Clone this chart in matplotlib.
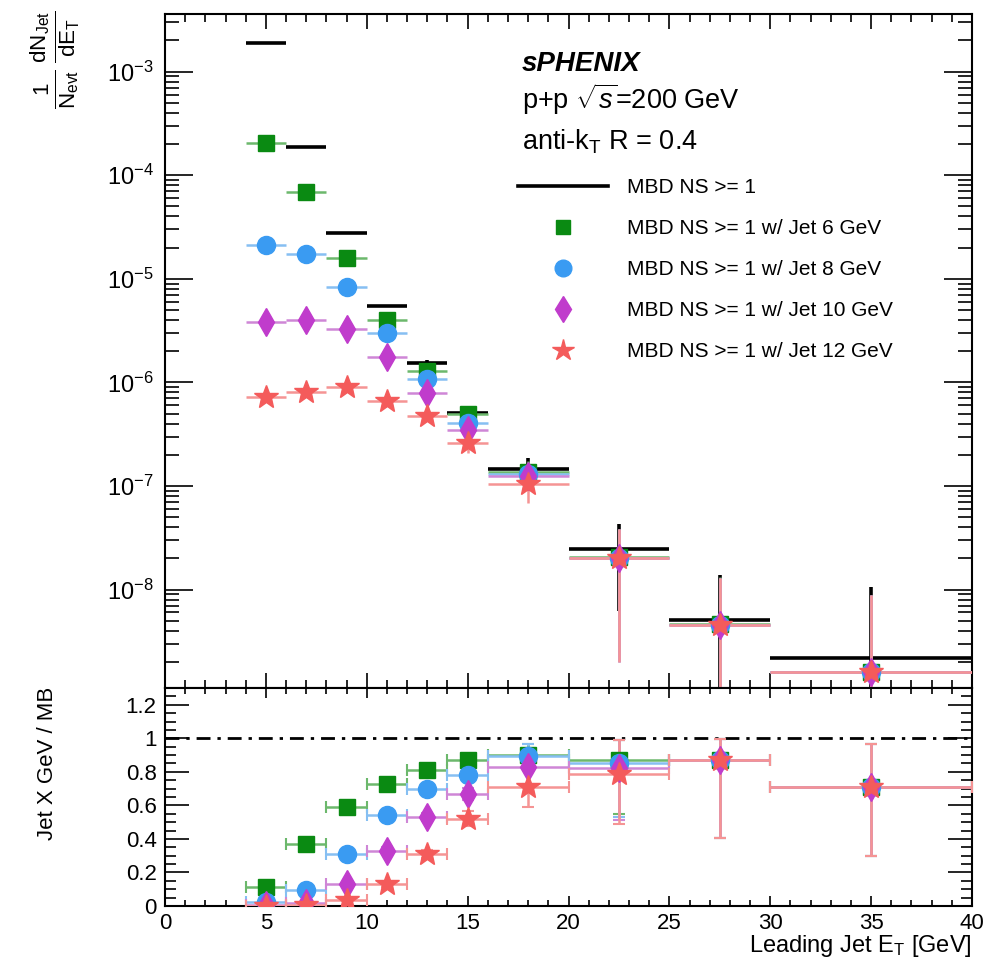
import numpy as np
import matplotlib
matplotlib.use("Agg")
import matplotlib.pyplot as plt
from matplotlib.lines import Line2D
from matplotlib.ticker import MultipleLocator, FixedLocator, NullFormatter, LogLocator

plt.rcParams['font.family'] = ['Liberation Sans', 'DejaVu Sans']
plt.rcParams['mathtext.fontset'] = 'custom'
plt.rcParams['mathtext.rm'] = 'Liberation Sans'
plt.rcParams['mathtext.it'] = 'Liberation Sans:italic'
plt.rcParams['mathtext.bf'] = 'Liberation Sans:bold'
plt.rcParams['mathtext.sf'] = 'Liberation Sans'

# ---------------- data ----------------
bin_lo = [4, 6, 8, 10, 12, 14, 16, 20, 25, 30]
bin_hi = [6, 8, 10, 12, 14, 16, 20, 25, 30, 40]

mb = [1.9e-3, 1.88e-4, 2.78e-5, 5.5e-6, 1.55e-6, 5.07e-7, 1.46e-7, 2.46e-8, 5.1e-9, 2.2e-9]
mb_err = [1e-5, 2e-6, 3e-7, 8e-8, 1e-7, 5e-8, 4e-8, 1.84e-8, 8.7e-9, 8.3e-9]

jet6 = [2.06e-4, 6.9e-5, 1.6e-5, 4.0e-6, 1.3e-6, 4.9e-7, 1.37e-7, 2.05e-8, 4.6e-9, 1.6e-9]
jet8 = [2.1e-5, 1.74e-5, 8.3e-6, 3.0e-6, 1.07e-6, 4.07e-7, 1.3e-7, 2.0e-8, 4.5e-9, 1.6e-9]
jet10 = [3.85e-6, 4.0e-6, 3.3e-6, 1.77e-6, 7.9e-7, 3.45e-7, 1.25e-7, 2.0e-8, 4.5e-9, 1.6e-9]
jet12 = [7.2e-7, 8.1e-7, 9.1e-7, 6.6e-7, 4.76e-7, 2.6e-7, 1.05e-7, 2.0e-8, 4.5e-9, 1.6e-9]

jet6_err = [1e-6, 6e-7, 2e-7, 8e-8, 5e-8, 4e-8, 3.8e-8, 1.8e-8, 8.5e-9, 7.3e-9]
jet8_err = [3e-7, 3e-7, 1.5e-7, 6e-8, 4e-8, 4e-8, 3.7e-8, 1.8e-8, 8.5e-9, 7.3e-9]
jet10_err = [1e-7, 1e-7, 8e-8, 5e-8, 4e-8, 4e-8, 3.6e-8, 1.8e-8, 8.5e-9, 7.3e-9]
jet12_err = [4e-8, 4e-8, 4e-8, 4e-8, 4e-8, 5e-8, 3.6e-8, 1.8e-8, 8.5e-9, 7.3e-9]

r6 = [0.115, 0.37, 0.59, 0.73, 0.81, 0.87, 0.90, 0.87, 0.873, 0.71]
r8 = [0.025, 0.095, 0.31, 0.54, 0.70, 0.78, 0.895, 0.85, 0.873, 0.71]
r10 = [0.005, 0.02, 0.13, 0.33, 0.53, 0.67, 0.83, 0.82, 0.873, 0.71]
r12 = [0.0, 0.005, 0.035, 0.13, 0.31, 0.52, 0.71, 0.79, 0.873, 0.71]

r6_lo = [0.01, 0.01, 0.015, 0.015, 0.02, 0.025, 0.07, 0.32, 0.47, 0.41]
r6_hi = [0.01, 0.01, 0.015, 0.015, 0.02, 0.025, 0.065, 0.12, 0.125, 0.255]
r8_lo = [0.005, 0.01, 0.015, 0.02, 0.02, 0.03, 0.08, 0.32, 0.47, 0.41]
r8_hi = [0.005, 0.01, 0.015, 0.02, 0.02, 0.03, 0.07, 0.14, 0.125, 0.255]
r10_lo = [0.003, 0.005, 0.01, 0.02, 0.025, 0.035, 0.10, 0.31, 0.47, 0.41]
r10_hi = [0.003, 0.005, 0.01, 0.02, 0.025, 0.035, 0.09, 0.17, 0.125, 0.255]
r12_lo = [0.0, 0.003, 0.008, 0.015, 0.025, 0.045, 0.12, 0.30, 0.47, 0.41]
r12_hi = [0.002, 0.003, 0.008, 0.015, 0.025, 0.045, 0.11, 0.20, 0.125, 0.255]

labels = ["MBD NS >= 1",
          "MBD NS >= 1 w/ Jet 6 GeV",
          "MBD NS >= 1 w/ Jet 8 GeV",
          "MBD NS >= 1 w/ Jet 10 GeV",
          "MBD NS >= 1 w/ Jet 12 GeV"]

ytick_vals = [1e-8, 1e-7, 1e-6, 1e-5, 1e-4, 1e-3]
ytick_labels = [r'$10^{-8}$', r'$10^{-7}$', r'$10^{-6}$', r'$10^{-5}$', r'$10^{-4}$', r'$10^{-3}$']
rtick_vals = [0, 0.2, 0.4, 0.6, 0.8, 1.0, 1.2]
rtick_labels = ['0', '0.2', '0.4', '0.6', '0.8', '1', '1.2']
xtick_vals = [0, 5, 10, 15, 20, 25, 30, 35, 40]

# ---------------- derived ----------------
lo = np.array(bin_lo, float)
hi = np.array(bin_hi, float)
xc = 0.5 * (lo + hi)
xe = 0.5 * (hi - lo)

colors = ['#0a8a12', '#3a9bf2', '#c03ccc', '#f45b5b']
ecolors = ['#6cb86c', '#86bff2', '#cf86d6', '#f59494']
markers = ['s', 'o', 'd', '*']
msizes = [11, 13, 14, 18]
leg_ms = [10, 12, 13, 16]
series = [jet6, jet8, jet10, jet12]
serrs = [jet6_err, jet8_err, jet10_err, jet12_err]
ratios = [r6, r8, r10, r12]
rlos = [r6_lo, r8_lo, r10_lo, r12_lo]
rhis = [r6_hi, r8_hi, r10_hi, r12_hi]

W, H = 990, 959
fig = plt.figure(figsize=(W / 100, H / 100), dpi=100)
L, R = 165, 972
T1, B1 = 14, 688
B2 = 906
ax1 = fig.add_axes([L / W, 1 - B1 / H, (R - L) / W, (B1 - T1) / H])
ax2 = fig.add_axes([L / W, 1 - B2 / H, (R - L) / W, (B2 - B1) / H])

# ---- upper panel ----
ax1.errorbar(xc, mb, xerr=xe, yerr=mb_err, fmt='none', ecolor='black',
             elinewidth=2.6, capsize=0, zorder=2)
for s, e, c, ec, m, ms in zip(series, serrs, colors, ecolors, markers, msizes):
    ax1.errorbar(xc, s, xerr=xe, yerr=e, fmt=m, color=c, ecolor=ec, mec=c,
                 ms=ms, elinewidth=1.8, capsize=0, zorder=3)

ax1.set_yscale('log')
ax1.set_xlim(0, 40)
ax1.set_ylim(1.12e-9, 3.6e-3)
ax1.yaxis.set_major_locator(FixedLocator(ytick_vals))
ax1.set_yticklabels(ytick_labels)
ax1.yaxis.set_minor_locator(LogLocator(base=10, subs=np.arange(2, 10), numticks=30))
ax1.yaxis.set_minor_formatter(NullFormatter())
ax1.xaxis.set_major_locator(FixedLocator(xtick_vals))
ax1.xaxis.set_minor_locator(MultipleLocator(1))
ax1.set_xticklabels([])
ax1.tick_params(axis='y', which='major', direction='in', length=20, width=1.2,
                labelsize=17, left=True, right=True, pad=8)
ax1.tick_params(axis='y', which='minor', direction='in', length=10, width=1.2,
                left=True, right=True)
ax1.tick_params(axis='x', which='major', direction='in', length=11, width=1.2,
                top=True, bottom=True)
ax1.tick_params(axis='x', which='minor', direction='in', length=6, width=1.2,
                top=True, bottom=True)
for sp in ax1.spines.values():
    sp.set_linewidth(1.5)

# legend
handles = [Line2D([], [], color='black', lw=2.6)]
for c, m, ms in zip(colors, markers, leg_ms):
    handles.append(Line2D([], [], ls='none', marker=m, color=c, ms=ms))
ax1.legend(handles, labels, loc='upper left',
           bbox_to_anchor=((518 - L) / (R - L), 1 - (178 - T1) / (B1 - T1)),
           frameon=False, fontsize=15, handlelength=4.3, handletextpad=0.95,
           labelspacing=1.06, borderpad=0, borderaxespad=0)

# text block
fig.text(522 / W, 1 - 71 / H, 'sPHENIX', fontsize=20, fontweight='bold',
         fontstyle='italic', ha='left', va='baseline')
fig.text(522 / W, 1 - 109 / H, r'p+p $\sqrt{s}$=200 GeV', fontsize=19.5,
         ha='left', va='baseline')
fig.text(522 / W, 1 - 149 / H, r'anti-k$_{\mathrm{T}}$ R = 0.4', fontsize=19.5,
         ha='left', va='baseline')

fig.text(55 / W, 1 - 60 / H,
         r'$\frac{1}{\mathrm{N}_{\mathrm{evt}}}\,\frac{\mathrm{dN}_{\mathrm{Jet}}}{\mathrm{dE}_{\mathrm{T}}}$',
         rotation=90, fontsize=23, ha='center', va='center')

# ---- lower panel ----
ax2.axhline(1.0, color='black', lw=2.0, ls=(0, (5, 2.5, 1.2, 2.5)), zorder=1)
for r, rl, rh, c, ec, m, ms in zip(ratios, rlos, rhis, colors, ecolors, markers, msizes):
    ax2.errorbar(xc, r, xerr=xe, yerr=[rl, rh], fmt=m, color=c, ecolor=ec, mec=c,
                 ms=ms, elinewidth=1.8, capsize=4, capthick=1.5, zorder=3)

ax2.set_xlim(0, 40)
ax2.set_ylim(0, 1.3)
ax2.yaxis.set_major_locator(FixedLocator(rtick_vals))
ax2.set_yticklabels(rtick_labels)
ax2.yaxis.set_minor_locator(MultipleLocator(0.05))
ax2.xaxis.set_major_locator(FixedLocator(xtick_vals))
ax2.set_xticklabels([str(v) for v in xtick_vals])
ax2.xaxis.set_minor_locator(MultipleLocator(1))
ax2.tick_params(axis='y', which='major', direction='in', length=17, width=1.2,
                labelsize=16, left=True, right=True, pad=6)
ax2.tick_params(axis='y', which='minor', direction='in', length=8, width=1.2,
                left=True, right=True)
ax2.tick_params(axis='x', which='major', direction='in', length=7, width=1.2,
                labelsize=16, top=True, bottom=True, pad=5)
ax2.tick_params(axis='x', which='minor', direction='in', length=4, width=1.2,
                top=True, bottom=True)
for sp in ax2.spines.values():
    sp.set_linewidth(1.5)

fig.text(R / W, 1 - 946 / H, r'Leading Jet E$_{\mathrm{T}}$ [GeV]', fontsize=17,
         ha='right', va='center')
fig.text(48 / W, 1 - 763 / H, 'Jet X GeV / MB', rotation=90, fontsize=16,
         ha='center', va='center')

fig.savefig('out.png', dpi=100)
